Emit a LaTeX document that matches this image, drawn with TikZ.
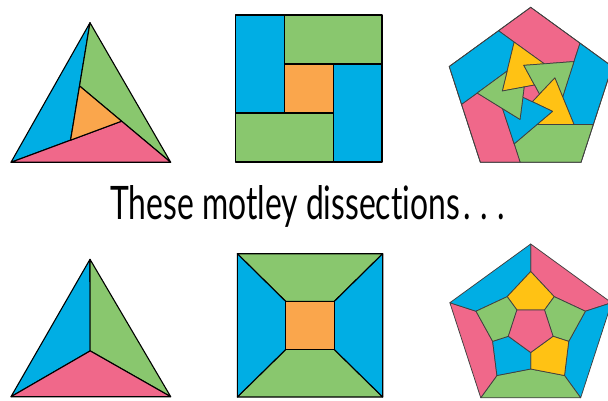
\documentclass[tikz,border=0pt]{standalone}
\usepackage{fontspec}
\newfontfamily\capfont[Ligatures=NoCommon]{Lato}
\usetikzlibrary{calc}
\definecolor{cblue}{RGB}{0,174,228}
\definecolor{cgreen}{RGB}{137,199,110}
\definecolor{cpink}{RGB}{240,104,138}
\definecolor{corange}{RGB}{250,166,76}
\definecolor{cyellow}{RGB}{255,194,20}
\begin{document}
\begin{tikzpicture}[x=1pt,y=-1pt,
  piece/.style={draw=black, line width=1.1pt, line join=round},
  ppiece/.style={draw=black!75, line width=0.75pt, line join=round}]
\useasboundingbox (0,0) rectangle (608,401);
\clip (0,0) rectangle (608,401);
% ---------- top triangle (pinwheel)
\coordinate (ta) at (90,22.7);
\coordinate (tl) at (11,162.3);
\coordinate (tr) at (170.7,162.3);
\coordinate (da) at ($(tl)!0.35!(tr)$);
\coordinate (db) at ($(tr)!0.35!(ta)$);
\coordinate (dc) at ($(ta)!0.35!(tl)$);
\coordinate (p2) at (intersection of ta--da and tl--db);
\coordinate (p3) at (intersection of tl--db and tr--dc);
\coordinate (p1) at (intersection of tr--dc and ta--da);
\filldraw[piece, fill=cblue] (ta) -- (tl) -- (p2) -- cycle;
\filldraw[piece, fill=cgreen] (ta) -- (p1) -- (tr) -- cycle;
\filldraw[piece, fill=cpink] (tl) -- (tr) -- (p3) -- cycle;
\filldraw[piece, fill=corange] (p1) -- (p2) -- (p3) -- cycle;
% ---------- top square (pinwheel)
\filldraw[piece, fill=cblue] (235.5,15) rectangle (284.3,113);
\filldraw[piece, fill=cgreen] (284.3,15) rectangle (382,64);
\filldraw[piece, fill=cblue] (333.2,64) rectangle (382,162);
\filldraw[piece, fill=cgreen] (235.5,113) rectangle (333.2,162);
\filldraw[piece, fill=corange] (284.3,64) rectangle (333.2,113);
% ---------- top pentagon
\begin{scope}[shift={(530.7,93)}]
\foreach \k/\c in {0/cpink,1/cblue,2/cgreen,3/cpink,4/cblue}{
  \pgfmathsetmacro\a{72*\k}
  \filldraw[ppiece, fill=\c] (\a-90:85.7) -- (\a-45.33:70.13) -- (\a-36:53.5)
    -- (\a-65:32.2) -- (\a-108:53.5) -- (\a-117.33:70.13) -- cycle;
}
\foreach \j/\c in {0/cyellow,1/cgreen,2/cyellow,3/cblue,4/cgreen}{
  \pgfmathsetmacro\a{72*\j-108}
  \filldraw[ppiece, fill=\c] (\a:53.5) -- (\a-68:28.5) -- (\a+43.5:8.82)
    -- (\a+4:28.5) -- (\a+43:32.2) -- cycle;
}
\filldraw[ppiece, fill=cpink] (-64.5:8.82) -- (7.5:8.82) -- (79.5:8.82)
  -- (151.5:8.82) -- (223.5:8.82) -- cycle;
\draw[ppiece] (-90:85.7) -- (-18:85.7) -- (54:85.7) -- (126:85.7) -- (198:85.7) -- cycle;
\end{scope}
% ---------- caption
\node[anchor=base west, inner sep=0pt] (cap) at (110,219)
  {\resizebox{395pt}{34pt}{\capfont These motley dissections\kern.12em.\kern.3em.\kern.3em.}};
% ---------- bottom triangle
\coordinate (ba) at (90,259.3);
\coordinate (bl) at (11,396.7);
\coordinate (br) at (170.7,396.7);
\coordinate (bc) at (90.2,350.9);
\filldraw[piece, fill=cblue] (ba) -- (bl) -- (bc) -- cycle;
\filldraw[piece, fill=cgreen] (ba) -- (bc) -- (br) -- cycle;
\filldraw[piece, fill=cpink] (bl) -- (br) -- (bc) -- cycle;
% ---------- bottom square
\filldraw[piece, fill=cgreen] (237.3,253.7) -- (382.7,253.7) -- (334.2,301.5) -- (285.8,301.5) -- cycle;
\filldraw[piece, fill=cgreen] (237.3,397) -- (382.7,397) -- (334.2,349.4) -- (285.8,349.4) -- cycle;
\filldraw[piece, fill=cblue] (237.3,253.7) -- (285.8,301.5) -- (285.8,349.4) -- (237.3,397) -- cycle;
\filldraw[piece, fill=cblue] (382.7,253.7) -- (334.2,301.5) -- (334.2,349.4) -- (382.7,397) -- cycle;
\filldraw[piece, fill=corange] (285.8,301.5) rectangle (334.2,349.4);
% ---------- bottom pentagon
\begin{scope}[shift={(530.7,329)}]
\foreach \k/\c in {0/cpink,1/cblue,2/cgreen,3/cpink,4/cblue}{
  \pgfmathsetmacro\a{72*\k-90}
  \filldraw[ppiece, fill=\c] (\a:85) -- (\a+72:85) -- (\a+72:57.5) -- (\a+36:40) -- (\a:57.5) -- cycle;
}
\foreach \k/\c in {0/cyellow,1/cgreen,2/cyellow,3/cblue,4/cgreen}{
  \pgfmathsetmacro\a{72*\k-90}
  \filldraw[ppiece, fill=\c] (\a:57.5) -- (\a+36:40) -- (\a+36:23.5) -- (\a-36:23.5) -- (\a-36:40) -- cycle;
}
\filldraw[ppiece, fill=cpink] (-54:23.5) -- (18:23.5) -- (90:23.5) -- (162:23.5) -- (234:23.5) -- cycle;
\end{scope}
\end{tikzpicture}
\end{document}
